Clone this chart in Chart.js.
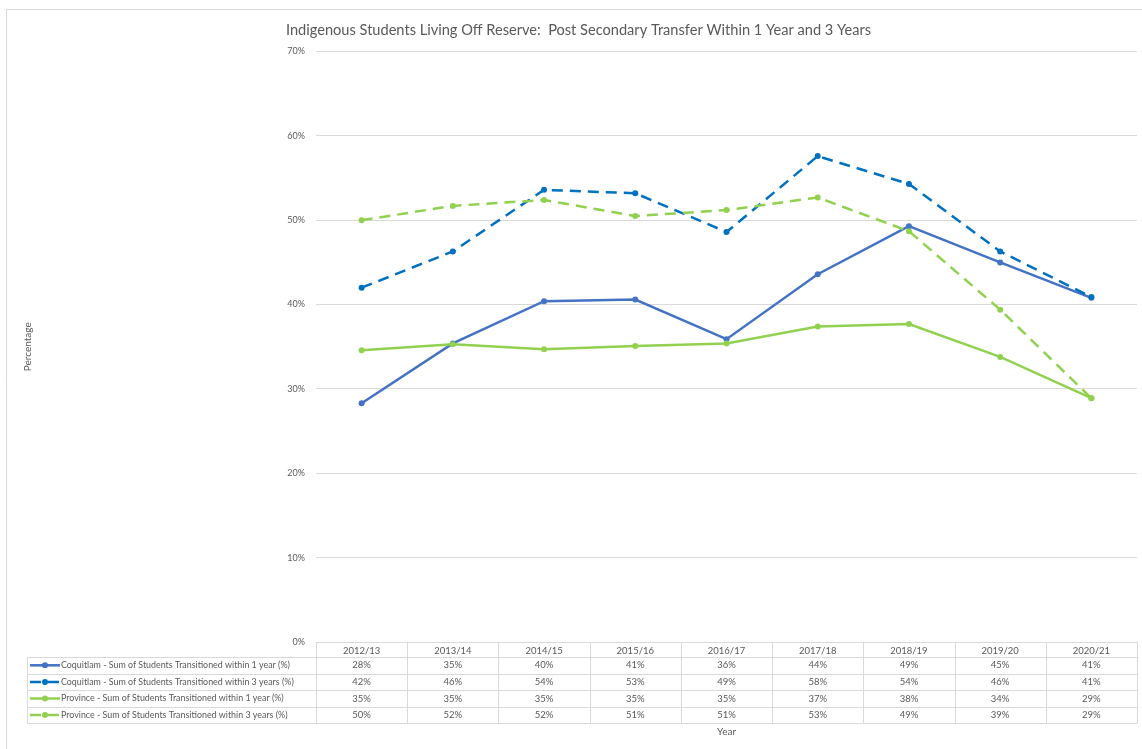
<!DOCTYPE html>
<html>
<head>
<meta charset="utf-8">
<title>Post Secondary Transfer</title>
<script src="https://cdn.jsdelivr.net/npm/chart.js@4.4.1/dist/chart.umd.min.js"></script>
<style>
  html, body { margin: 0; padding: 0; background: #ffffff; }
  canvas { display: block; }
</style>
</head>
<body>
<canvas id="transferChart" width="1142" height="749"></canvas>
<script>
// School years on the x axis
const years = ['2012/13', '2013/14', '2014/15', '2015/16', '2016/17', '2017/18', '2018/19', '2019/20', '2020/21'];

// Percent of students transitioned, per series
const coqOneYear = [28.3, 35.4, 40.4, 40.6, 35.9, 43.6, 49.3, 45.0, 40.8];
const coqThreeYear = [42.0, 46.3, 53.6, 53.2, 48.6, 57.6, 54.3, 46.3, 40.9];
const provOneYear = [34.6, 35.3, 34.7, 35.1, 35.4, 37.4, 37.7, 33.8, 28.9];
const provThreeYear = [50.0, 51.7, 52.4, 50.5, 51.2, 52.7, 48.7, 39.4, 28.9];

const seriesNames = [
    'Coquitlam - Sum of Students Transitioned within 1 year (%)',
    'Coquitlam - Sum of Students Transitioned within 3 years (%)',
    'Province - Sum of Students Transitioned within 1 year (%)',
    'Province - Sum of Students Transitioned within 3 years (%)'
];

const yTicks = [0, 10, 20, 30, 40, 50, 60, 70];

const FONT = 'Lato, "Open Sans", sans-serif';
const TEXT = '#595959';
const LINE = '#d9d9d9';
const BLUE = '#4472c4';
const DARK_BLUE = '#0070c0';
const GREEN = '#92d050';
const DASH = [11, 7];

// light frame around the whole chart
const frame = {
    id: 'frame',
    beforeDraw(chart) {
        const ctx = chart.ctx;
        ctx.save();
        ctx.strokeStyle = LINE;
        ctx.lineWidth = 1;
        ctx.beginPath();
        ctx.moveTo(6.5, chart.height);
        ctx.lineTo(6.5, 9.5);
        ctx.lineTo(chart.width, 9.5);
        ctx.stroke();
        ctx.restore();
    }
};

// data table under the plot: header row comes from the x ticks
const dataTable = {
    id: 'dataTable',
    afterDraw(chart) {
        const ctx = chart.ctx;
        const area = chart.chartArea;
        const xs = chart.scales.x;
        const n = years.length;
        const colW = (area.right - area.left) / n;
        const headTop = area.bottom;
        const headBottom = headTop + 15;
        const rowH = 16.6;
        const legendLeft = 27;
        const tableBottom = headBottom + rowH * chart.data.datasets.length;

        ctx.save();
        ctx.strokeStyle = LINE;
        ctx.lineWidth = 1;
        ctx.beginPath();
        // header top
        ctx.moveTo(area.left, Math.round(headTop) + 0.5);
        ctx.lineTo(area.right, Math.round(headTop) + 0.5);
        // row separators
        for (let r = 0; r <= chart.data.datasets.length; r++) {
            const y = Math.round(headBottom + r * rowH) + 0.5;
            ctx.moveTo(legendLeft, y);
            ctx.lineTo(area.right, y);
        }
        // column separators
        for (let i = 0; i <= n; i++) {
            const x = Math.round(area.left + i * colW) + 0.5;
            ctx.moveTo(x, headTop);
            ctx.lineTo(x, tableBottom);
        }
        ctx.moveTo(legendLeft + 0.5, headBottom);
        ctx.lineTo(legendLeft + 0.5, tableBottom);
        ctx.stroke();

        ctx.textBaseline = 'middle';
        chart.data.datasets.forEach((ds, r) => {
            const cy = headBottom + r * rowH + rowH / 2;

            // legend key
            ctx.strokeStyle = ds.borderColor;
            ctx.lineWidth = 2.5;
            ctx.setLineDash(ds.borderDash || []);
            ctx.beginPath();
            ctx.moveTo(30, cy);
            ctx.lineTo(60, cy);
            ctx.stroke();
            ctx.setLineDash([]);
            ctx.fillStyle = ds.borderColor;
            ctx.beginPath();
            ctx.arc(45, cy, 3, 0, Math.PI * 2);
            ctx.fill();

            ctx.fillStyle = TEXT;
            ctx.textAlign = 'left';
            ctx.font = '8.9px ' + FONT;
            ctx.fillText(ds.label, 61, cy);

            ctx.textAlign = 'center';
            ctx.font = '9.5px ' + FONT;
            ds.data.forEach((v, i) => {
                ctx.fillText(Math.round(v) + '%', xs.getPixelForValue(i), cy);
            });
        });
        ctx.restore();
    }
};

function series(label, data, color, dashed, order) {
    return {
        label: label,
        data: data,
        borderColor: color,
        backgroundColor: color,
        pointBackgroundColor: color,
        pointBorderColor: color,
        borderWidth: 2.5,
        borderDash: dashed ? DASH : [],
        pointRadius: 3,
        pointBorderWidth: 0,
        tension: 0,
        order: order
    };
}

const ctx = document.getElementById('transferChart').getContext('2d');
new Chart(ctx, {
    type: 'line',
    data: {
        labels: years,
        datasets: [
            series(seriesNames[0], coqOneYear, BLUE, false, 4),
            series(seriesNames[1], coqThreeYear, DARK_BLUE, true, 3),
            series(seriesNames[2], provOneYear, GREEN, false, 2),
            series(seriesNames[3], provThreeYear, GREEN, true, 1)
        ]
    },
    options: {
        responsive: false,
        animation: false,
        layout: {
            padding: { left: 20, right: 5, top: 0, bottom: 9 }
        },
        plugins: {
            legend: { display: false },
            tooltip: { enabled: false },
            title: {
                display: true,
                text: 'Indigenous Students Living Off Reserve:  Post Secondary Transfer Within 1 Year and 3 Years',
                color: TEXT,
                font: { family: FONT, size: 14.6, weight: 'normal' },
                padding: { top: 22, bottom: 12 }
            }
        },
        scales: {
            x: {
                offset: true,
                grid: { display: false, drawTicks: false, tickLength: 0 },
                border: { display: false },
                ticks: {
                    color: TEXT,
                    font: { family: FONT, size: 9.5 },
                    padding: 3,
                    maxRotation: 0,
                    autoSkip: false
                },
                title: {
                    display: true,
                    text: 'Year',
                    color: TEXT,
                    font: { family: FONT, size: 10 },
                    padding: 2
                },
                afterFit(scale) { scale.height = 98; }
            },
            y: {
                min: 0,
                max: 70,
                afterBuildTicks(scale) {
                    scale.ticks = yTicks.map(v => ({ value: v }));
                },
                grid: { color: LINE, lineWidth: 1, drawTicks: false },
                border: { display: false },
                ticks: {
                    color: TEXT,
                    font: { family: FONT, size: 9 },
                    padding: 11,
                    callback: v => v + '%'
                },
                title: {
                    display: true,
                    text: 'Percentage',
                    color: TEXT,
                    font: { family: FONT, size: 10 },
                    padding: 2
                },
                afterFit(scale) { scale.width = 296; }
            }
        }
    },
    plugins: [frame, dataTable]
});
</script>
</body>
</html>
